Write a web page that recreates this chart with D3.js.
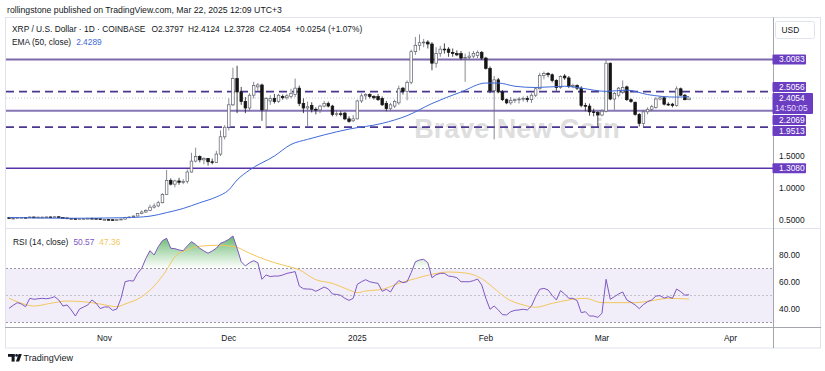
<!DOCTYPE html>
<html><head><meta charset="utf-8">
<script src="https://cdn.jsdelivr.net/npm/d3@7"></script>
<style>
html,body{margin:0;padding:0;background:#fff;}
svg{display:block;font-family:"Liberation Sans",Arial,sans-serif;}
</style></head><body>
<svg id="c" width="825" height="371"></svg>
<script>
// ---------------- DATA ----------------
const firstDay = "2024-10-09";
const lastDay = "2025-03-22";
const opens = [.536,.527,.528,.536,.541,.536,.546,.541,.545,.545,.548,.547,.551,.538,.532,.526,.524,.511,.518,.520,.526,.524,.520,.506,.508,.505,.500,.505,.513,.540,.548,.562,.600,.625,.650,.700,.720,.770,.900,1.120,1.060,1.110,1.090,1.100,1.250,1.420,1.490,1.440,1.460,1.410,1.400,1.530,1.800,1.950,2.300,2.710,2.500,2.350,2.250,2.450,2.580,2.610,2.220,2.360,2.400,2.350,2.430,2.410,2.430,2.460,2.560,2.320,2.250,2.290,2.230,2.220,2.280,2.320,2.280,2.150,2.160,2.170,2.080,2.050,2.080,2.360,2.440,2.460,2.430,2.430,2.400,2.320,2.240,2.280,2.330,2.560,2.510,2.650,3.130,3.230,3.270,3.280,3.250,2.950,3.100,3.170,3.170,3.120,3.100,3.100,3.030,3.040,3.060,3.070,3.120,3.030,2.870,2.520,2.690,2.500,2.380,2.330,2.370,2.380,2.390,2.400,2.380,2.450,2.550,2.760,2.790,2.770,2.680,2.570,2.750,2.720,2.590,2.600,2.560,2.290,2.280,2.190,2.180,2.140,2.200,2.950,2.390,2.450,2.500,2.580,2.380,2.340,2.150,2.010,2.190,2.230,2.260,2.390,2.410,2.310,2.310,2.290,2.550,2.450,2.3797];
const highs = [.538,.533,.538,.545,.544,.557,.556,.552,.552,.552,.552,.555,.552,.540,.536,.530,.532,.520,.524,.530,.537,.528,.522,.514,.511,.507,.512,.522,.550,.552,.570,.610,.650,.670,.740,.760,.800,.920,1.280,1.150,1.130,1.160,1.140,1.290,1.550,1.630,1.510,1.480,1.470,1.460,1.580,1.900,1.980,2.400,2.880,2.910,2.580,2.420,2.480,2.660,2.640,2.630,2.420,2.450,2.470,2.470,2.460,2.470,2.550,2.710,2.600,2.400,2.350,2.340,2.260,2.300,2.360,2.350,2.300,2.220,2.200,2.190,2.120,2.140,2.380,2.480,2.480,2.480,2.450,2.470,2.430,2.360,2.330,2.380,2.600,2.580,2.680,3.160,3.360,3.400,3.330,3.310,3.280,3.200,3.220,3.260,3.200,3.180,3.150,3.140,3.100,3.130,3.140,3.150,3.140,3.050,2.900,2.750,2.720,2.530,2.400,2.420,2.400,2.420,2.430,2.440,2.480,2.580,2.800,2.820,2.810,2.790,2.700,2.760,2.780,2.750,2.630,2.620,2.590,2.330,2.320,2.240,2.200,2.230,3.000,2.960,2.500,2.580,2.680,2.600,2.400,2.350,2.170,2.220,2.260,2.300,2.420,2.430,2.420,2.340,2.330,2.590,2.570,2.470,2.4124];
const lows = [.523,.521,.527,.533,.530,.530,.533,.538,.540,.540,.544,.543,.534,.528,.517,.518,.506,.508,.514,.514,.523,.516,.505,.497,.502,.492,.495,.500,.510,.530,.545,.558,.590,.610,.640,.680,.700,.760,.890,1.040,1.010,1.050,1.060,1.070,1.240,1.400,1.400,1.370,1.350,1.370,1.390,1.500,1.760,1.900,2.280,2.170,2.300,2.170,2.200,2.400,2.520,2.050,1.930,2.300,2.320,2.330,2.380,2.380,2.400,2.420,2.280,2.170,1.960,2.180,2.150,2.170,2.260,2.260,2.120,2.120,2.120,2.060,2.020,2.030,2.070,2.330,2.380,2.400,2.380,2.360,2.280,2.200,2.200,2.250,2.300,2.460,2.370,2.620,3.080,3.150,3.200,3.180,2.840,2.880,3.050,3.100,3.050,3.050,3.060,3.000,2.660,3.000,3.030,3.030,3.000,2.850,2.480,1.760,2.480,2.360,2.310,2.300,2.330,2.320,2.350,2.340,2.330,2.420,2.540,2.700,2.730,2.650,2.520,2.550,2.690,2.560,2.560,2.530,2.260,2.200,2.130,2.120,1.960,2.120,2.180,2.370,2.220,2.420,2.470,2.360,2.330,2.130,1.960,1.950,2.150,2.200,2.240,2.370,2.290,2.280,2.260,2.270,2.440,2.370,2.3728];
const closes = [.527,.528,.536,.541,.536,.546,.541,.545,.545,.548,.547,.551,.538,.532,.526,.524,.511,.518,.520,.526,.524,.520,.506,.508,.505,.500,.505,.513,.540,.548,.562,.600,.625,.650,.700,.720,.770,.900,1.120,1.060,1.110,1.090,1.100,1.250,1.420,1.490,1.440,1.460,1.410,1.400,1.530,1.800,1.950,2.300,2.710,2.500,2.350,2.250,2.450,2.600,2.610,2.220,2.400,2.400,2.350,2.450,2.410,2.440,2.480,2.560,2.320,2.250,2.270,2.230,2.220,2.280,2.320,2.280,2.150,2.160,2.150,2.080,2.040,2.080,2.360,2.440,2.460,2.430,2.410,2.380,2.300,2.240,2.300,2.350,2.550,2.510,2.650,3.130,3.230,3.270,3.280,3.250,2.950,3.100,3.170,3.160,3.120,3.100,3.080,3.030,3.040,3.060,3.100,3.120,3.030,2.870,2.520,2.690,2.500,2.380,2.330,2.370,2.380,2.390,2.400,2.380,2.450,2.550,2.760,2.790,2.770,2.680,2.570,2.740,2.720,2.590,2.600,2.560,2.290,2.280,2.190,2.180,2.140,2.200,2.950,2.390,2.480,2.560,2.570,2.380,2.350,2.150,2.010,2.190,2.230,2.270,2.390,2.410,2.310,2.300,2.290,2.550,2.450,2.380,2.4054];

const emaDates = ["2024-10-09","2024-10-23","2024-11-06","2024-11-12","2024-11-16","2024-11-20","2024-11-24","2024-11-28","2024-12-01","2024-12-03","2024-12-06","2024-12-12","2024-12-16","2024-12-20","2024-12-24","2024-12-30","2025-01-07","2025-01-13","2025-01-19","2025-01-26","2025-02-01","2025-02-04","2025-02-08","2025-02-13","2025-02-20","2025-02-24","2025-03-02","2025-03-07","2025-03-12","2025-03-19","2025-03-22"];
const emaValues = [0.54,0.527,0.536,0.56,0.615,0.68,0.77,0.86,0.97,1.125,1.28,1.50,1.68,1.76,1.83,1.92,2.01,2.13,2.32,2.50,2.64,2.64,2.59,2.57,2.59,2.56,2.51,2.53,2.46,2.42,2.4289];

const rsiValues = [40.5,42.7,44.7,43.7,41.7,47.9,47.2,47.6,47.9,47.6,48.1,49.1,46.7,42.2,43.0,39.3,34.8,40.0,41.5,43.0,46.7,44.3,40.3,41.5,41.5,39.0,40.0,47.9,60.2,61.0,60.7,66.4,70.1,77.5,83.2,80.0,86.2,90.6,92.4,85.0,84.7,83.7,83.2,86.7,89.9,87.8,85.0,83.0,81.3,83.0,85.0,88.7,89.9,91.6,94.1,85.0,75.0,71.9,74.3,75.8,74.3,62.0,65.2,64.0,64.4,64.4,65.2,66.4,67.0,67.7,57.0,55.0,54.8,54.6,53.1,54.6,56.3,54.8,51.1,50.8,50.1,47.9,46.4,47.9,58.3,60.2,61.7,60.2,59.5,59.0,53.1,54.6,52.6,57.8,61.0,59.5,60.2,66.9,75.0,76.3,76.8,74.3,63.2,65.4,66.4,66.4,64.4,64.0,63.2,60.2,60.2,60.2,61.0,62.2,57.8,47.9,39.8,42.2,39.3,35.8,35.6,38.0,39.0,39.3,39.8,39.3,42.2,49.1,54.6,55.3,54.1,50.1,46.7,53.6,51.1,47.9,47.9,46.2,37.3,38.0,34.8,34.8,33.8,36.8,62.0,47.2,49.1,51.1,52.6,46.7,45.0,43.0,40.3,43.3,45.4,46.7,49.6,49.9,48.1,49.1,47.9,54.8,52.8,50.2,50.57];

const rsiMaDates = ["2024-10-09","2024-10-11","2024-10-15","2024-10-19","2024-10-23","2024-10-27","2024-10-31","2024-11-04","2024-11-06","2024-11-10","2024-11-13","2024-11-16","2024-11-18","2024-11-21","2024-11-24","2024-11-28","2024-12-02","2024-12-06","2024-12-10","2024-12-14","2024-12-18","2024-12-22","2024-12-26","2024-12-30","2025-01-01","2025-01-03","2025-01-07","2025-01-11","2025-01-15","2025-01-19","2025-01-23","2025-01-27","2025-01-31","2025-02-03","2025-02-06","2025-02-10","2025-02-13","2025-02-17","2025-02-21","2025-02-25","2025-03-01","2025-03-05","2025-03-09","2025-03-13","2025-03-17","2025-03-22"];
const rsiMaValues = [48,45.4,42.2,44.2,45.9,45.4,43.7,41.7,43.7,49.1,57,68.9,78.7,84,86.5,87.2,86.5,81.3,76.3,72.6,69,61.7,59,54.1,52.1,53.3,54.6,59,62.5,65.7,67.4,66.7,62.5,55.3,47.9,43,41.3,44.2,46.7,47.9,44.7,44.7,44.7,46.2,47.9,47.36];

const levelValues = [3.0083, 2.5056, 2.2069, 1.9513, 1.3080];
const lastPrice = 2.4054;
const countdown = "14:50:05";
const priceTicks = [0.5, 1.0, 1.5];
const rsiTicks = [40, 60, 80];
const rsiBands = [70, 50, 30];
const monthTicks = ["2024-11-01","2024-12-01","2025-01-01","2025-02-01","2025-03-01","2025-04-01"];
const monthLabels = ["Nov","Dec","2025","Feb","Mar","Apr"];
const legendParts = ["XRP / U.S. Dollar · 1D · COINBASE","O2.3797","H2.4124","L2.3728","C2.4054","+0.0254 (+1.07%)"];

// ---------------- STYLE / LAYOUT ----------------
const levelStyle = [
  {color:"#7d6aab", width:2, dash:null},
  {color:"#4b3790", width:1.6, dash:"8,5"},
  {color:"#8676b6", width:2, dash:null},
  {color:"#4b3790", width:1.6, dash:"8,5"},
  {color:"#5a32a8", width:1.6, dash:null}
];
const font = '"Liberation Sans", Arial, sans-serif';
const txt = "#131722";
const fs = 8.4;
const axisX = 773;
const paneL = 6, paneTop = 18, paneBot = 228, rsiTop = 229, rsiBot = 327;
const labelColor = "#6a3dc1";

const parse = d3.utcParse("%Y-%m-%d");
const dates = d3.utcDay.range(parse(firstDay), d3.utcDay.offset(parse(lastDay), 1));
const candles = dates.map((d,i)=>({d, o:opens[i], h:highs[i], l:lows[i], c:closes[i]}));

const x = d3.scaleUtc().domain([parse("2024-11-01"), parse("2025-04-01")]).range([104.4, 730.5]);
const y = d3.scaleLinear().domain([0.5, 3.0]).range([220, 60]);
const yr = d3.scaleLinear().domain([30, 70]).range([322.5, 268.5]);

const svg = d3.select("#c");
const defs = svg.append("defs");
defs.append("clipPath").attr("id","mainClip").append("rect")
  .attr("x",paneL).attr("y",paneTop).attr("width",axisX-paneL).attr("height",paneBot-paneTop);
defs.append("clipPath").attr("id","rsiClip").append("rect")
  .attr("x",paneL).attr("y",rsiTop).attr("width",axisX-paneL).attr("height",rsiBot-rsiTop);
defs.append("clipPath").attr("id","obClip").append("rect")
  .attr("x",paneL).attr("y",rsiTop).attr("width",axisX-paneL).attr("height",yr(70)-rsiTop);
const grad = defs.append("linearGradient").attr("id","obGrad")
  .attr("gradientUnits","userSpaceOnUse").attr("x1",0).attr("x2",0).attr("y1",yr(100)).attr("y2",yr(70));
grad.append("stop").attr("offset","0%").attr("stop-color","#2e9b3c").attr("stop-opacity",0.95);
grad.append("stop").attr("offset","100%").attr("stop-color","#4caf50").attr("stop-opacity",0);

svg.append("rect").attr("width",825).attr("height",371).attr("fill","#fff");

// header
svg.append("text").attr("x",7).attr("y",13).attr("font-size",8.7).attr("font-family",font)
  .attr("fill",txt).text("rollingstone published on TradingView.com, Mar 22, 2025 12:09 UTC+3");

// frame
svg.append("rect").attr("x",5.5).attr("y",17.5).attr("width",815).attr("height",330.5)
  .attr("fill","none").attr("stroke","#e0e3eb");

// main pane
const main = svg.append("g").attr("clip-path","url(#mainClip)");
main.append("text").attr("x",517).attr("y",138).attr("text-anchor","middle")
  .attr("font-size",27).attr("font-weight","bold").attr("font-family",font)
  .attr("fill","#c9c9c9").attr("opacity",0.6).text("Brave New Coin");

levelValues.forEach((v,i)=>{
  const s = levelStyle[i];
  main.append("line").attr("x1",paneL).attr("x2",axisX).attr("y1",y(v)).attr("y2",y(v))
    .attr("stroke",s.color).attr("stroke-width",s.width).attr("stroke-dasharray",s.dash);
});
main.append("line").attr("x1",paneL).attr("x2",axisX).attr("y1",y(lastPrice)).attr("y2",y(lastPrice))
  .attr("stroke","#b8bac2").attr("stroke-width",0.8).attr("stroke-dasharray","1,2");

const bw = 2.6;
const cg = main.append("g");
cg.selectAll("line.w").data(candles).join("line")
  .attr("x1",d=>x(d.d)).attr("x2",d=>x(d.d)).attr("y1",d=>y(d.h)).attr("y2",d=>y(d.l))
  .attr("stroke",d=>d.c>=d.o?"#6a6d78":"#1a1a1a").attr("stroke-width",0.8);
cg.selectAll("rect.b").data(candles).join("rect")
  .attr("x",d=>x(d.d)-bw/2).attr("width",bw)
  .attr("y",d=>y(Math.max(d.o,d.c)))
  .attr("height",d=>Math.max(0.8, Math.abs(y(d.o)-y(d.c))))
  .attr("fill",d=>d.c>=d.o?"#ffffff":"#151515")
  .attr("stroke",d=>d.c>=d.o?"#5d606b":"#151515").attr("stroke-width",0.7);

const ema = emaDates.map((d,i)=>({d:parse(d), v:emaValues[i]}));
main.append("path").datum(ema)
  .attr("d", d3.line().x(d=>x(d.d)).y(d=>y(d.v)).curve(d3.curveMonotoneX))
  .attr("fill","none").attr("stroke","#3f6ad8").attr("stroke-width",1);

// legend (parts laid out one after another by measured width)
const lg = svg.append("g").attr("font-family",font).attr("font-size",fs).attr("fill",txt);
let lx = 12;
legendParts.forEach((t,i)=>{
  const el = lg.append("text").attr("x",lx).attr("y",32).text(t);
  lx += el.node().getComputedTextLength() + (i===0 ? 6 : 4.5);
});
const emaLbl = lg.append("text").attr("x",12).attr("y",45).text("EMA (50, close)");
lg.append("text").attr("x",12 + emaLbl.node().getComputedTextLength() + 5).attr("y",45)
  .attr("fill","#3f6ad8").text("2.4289");

// pane separators
svg.append("line").attr("x1",5).attr("x2",821).attr("y1",228.5).attr("y2",228.5).attr("stroke","#e0e3eb");
svg.append("line").attr("x1",5).attr("x2",821).attr("y1",rsiBot+0.5).attr("y2",rsiBot+0.5).attr("stroke","#a3a6af");
svg.append("line").attr("x1",axisX+0.5).attr("x2",axisX+0.5).attr("y1",17.5).attr("y2",348).attr("stroke","#a3a6af");

// RSI pane
const rg = svg.append("g").attr("clip-path","url(#rsiClip)");
rg.append("rect").attr("x",paneL).attr("width",axisX-paneL).attr("y",yr(70)).attr("height",yr(30)-yr(70))
  .attr("fill","#7e57c2").attr("fill-opacity",0.1);
rsiBands.forEach(b=>{
  rg.append("line").attr("x1",paneL).attr("x2",axisX).attr("y1",yr(b)).attr("y2",yr(b))
    .attr("stroke", b===50 ? "#b4b6be" : "#7d808a").attr("stroke-width",0.8).attr("stroke-dasharray","2,2");
});
const rsi = candles.map((c,i)=>({d:c.d, v:rsiValues[i]}));
rg.append("path").datum(rsi).attr("clip-path","url(#obClip)")
  .attr("d", d3.area().x(d=>x(d.d)).y0(yr(70)).y1(d=>yr(d.v)))
  .attr("fill","url(#obGrad)");
const rsiMa = rsiMaDates.map((d,i)=>({d:parse(d), v:rsiMaValues[i]}));
rg.append("path").datum(rsiMa)
  .attr("d", d3.line().x(d=>x(d.d)).y(d=>yr(d.v)).curve(d3.curveMonotoneX))
  .attr("fill","none").attr("stroke","#f2c75c").attr("stroke-width",1);
rg.append("path").datum(rsi)
  .attr("d", d3.line().x(d=>x(d.d)).y(d=>yr(d.v)))
  .attr("fill","none").attr("stroke","#7e57c2").attr("stroke-width",1);

const rl = svg.append("g").attr("font-family",font).attr("font-size",fs);
const rsiLbl = rl.append("text").attr("x",13).attr("y",244.5).attr("fill",txt).text("RSI (14, close)");
let rx = 13 + rsiLbl.node().getComputedTextLength() + 5;
const r1 = rl.append("text").attr("x",rx).attr("y",244.5).attr("fill","#7e57c2").text("50.57");
rx += r1.node().getComputedTextLength() + 5;
rl.append("text").attr("x",rx).attr("y",244.5).attr("fill","#f2c75c").text("47.36");

// axes text
const ax = svg.append("g").attr("font-family",font).attr("font-size",fs).attr("fill",txt);
priceTicks.forEach(t=>{
  ax.append("text").attr("x",779).attr("y",y(t)+3).text(d3.format(".4f")(t));
});
rsiTicks.forEach(t=>{
  ax.append("text").attr("x",779).attr("y",yr(t)+3).text(d3.format(".2f")(t));
});
monthTicks.forEach((m,i)=>{
  ax.append("text").attr("x",x(parse(m))).attr("y",340.5).attr("text-anchor","middle").text(monthLabels[i]);
});

// USD box
svg.append("rect").attr("x",775.5).attr("y",21.5).attr("width",39).attr("height",17).attr("rx",2)
  .attr("fill","#fff").attr("stroke","#e0e3eb");
svg.append("text").attr("x",781.5).attr("y",33).attr("font-family",font).attr("font-size",fs)
  .attr("fill",txt).text("USD");

// price labels with overlap resolution
const lh = 10;
const curTop = y(lastPrice) - 5, curBot = curTop + 21;
let items = levelValues.map(v=>({v, c:y(v)}));
const above = items.filter(d=>d.c < y(lastPrice)).sort((a,b)=>b.c-a.c);
const below = items.filter(d=>d.c >= y(lastPrice)).sort((a,b)=>a.c-b.c);
let limit = curTop - 1;
above.forEach(d=>{ if (d.c + lh/2 > limit) d.c = limit - lh/2; limit = d.c - lh/2 - 1; });
limit = curBot + 1;
below.forEach(d=>{ if (d.c - lh/2 < limit) d.c = limit + lh/2; limit = d.c + lh/2 + 1; });
const pl = svg.append("g").attr("font-family",font).attr("font-size",fs);
items.forEach(d=>{
  pl.append("rect").attr("x",772.5).attr("y",d.c-lh/2).attr("width",33.5).attr("height",lh).attr("rx",1)
    .attr("fill",labelColor);
  pl.append("text").attr("x",779).attr("y",d.c+3).attr("fill","#fff").text(d3.format(".4f")(d.v));
});
pl.append("rect").attr("x",772.5).attr("y",curTop).attr("width",40.5).attr("height",21).attr("rx",1)
  .attr("fill",labelColor);
pl.append("text").attr("x",779).attr("y",y(lastPrice)+3).attr("fill","#fff").text(d3.format(".4f")(lastPrice));
pl.append("text").attr("x",775).attr("y",y(lastPrice)+13).attr("fill","#e6dcff").text(countdown);

// TradingView logo
const logo = svg.append("g").attr("fill","#131722");
logo.append("rect").attr("x",8).attr("y",354).attr("width",6.6).attr("height",2.8);
logo.append("rect").attr("x",11.6).attr("y",354).attr("width",3).attr("height",7.6);
logo.append("circle").attr("cx",16.6).attr("cy",355.4).attr("r",1.4);
logo.append("path").attr("d","M18.6,354 L21.8,354 L19.2,361.6 L15.9,361.6 Z");
svg.append("text").attr("x",23.5).attr("y",361.3).attr("font-family",font).attr("font-size",9)
  .attr("fill",txt).text("TradingView");
</script>
</body></html>
